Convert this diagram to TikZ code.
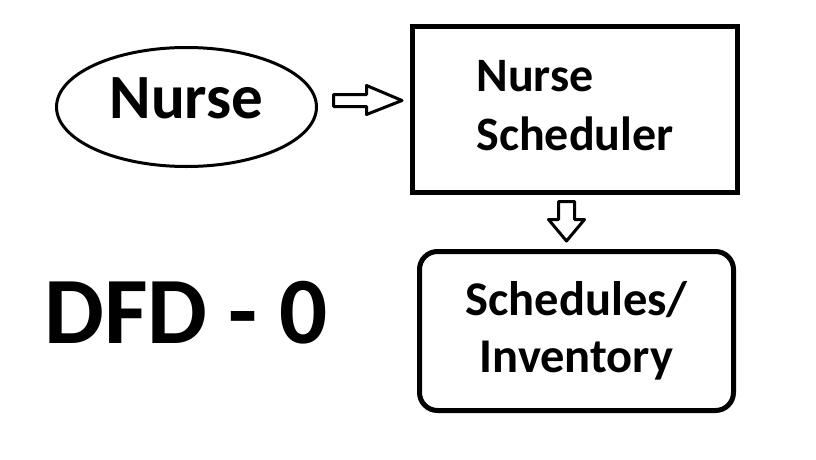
\documentclass[tikz,border=0pt]{standalone}
\usepackage{fontspec}
\setmainfont{Carlito}
\usetikzlibrary{shapes.geometric}

\tikzset{
  blockarrow/.style={draw=black, line width=3pt, line join=round, fill=white}
}

\begin{document}
\begin{tikzpicture}[x=1pt,y=-1pt]
    \useasboundingbox (0,0) rectangle (816,460);

    % entity and processes
    \node[ellipse, draw, line width=3pt, minimum width=260pt, minimum height=119pt,
          font=\bfseries\fontsize{63}{70}\selectfont, text depth=17pt] (nurse) at (186.5,107) {Nurse};
    \node[rectangle, draw, line width=5pt, minimum width=325pt, minimum height=166pt,
          font=\bfseries\fontsize{48}{59}\selectfont, align=left, text depth=7.6pt] (sched) at (575,109.5) {Nurse\\Scheduler};
    \node[rectangle, draw, line width=5pt, rounded corners=18pt, minimum width=314pt, minimum height=159pt,
          font=\bfseries\fontsize{48.5}{57}\selectfont, align=center] (store) at (576.5,331) {Schedules/\\Inventory};

    % block arrows
    \draw[blockarrow] (333.5,94.5) -- (366.5,94.5) -- (366.5,85.5) -- (402,100.5)
        -- (366.5,114.5) -- (366.5,106.5) -- (333.5,106.5) -- cycle;
    \draw[blockarrow] (558.5,201.5) -- (574.5,201.5) -- (574.5,219.5) -- (584.5,219.5)
        -- (566.5,241) -- (548.5,219.5) -- (558.5,219.5) -- cycle;

    % title
    \node[anchor=base west, inner sep=0pt, font=\bfseries\fontsize{95}{100}\selectfont] (title) at (44,343) {DFD - 0};
\end{tikzpicture}
\end{document}
